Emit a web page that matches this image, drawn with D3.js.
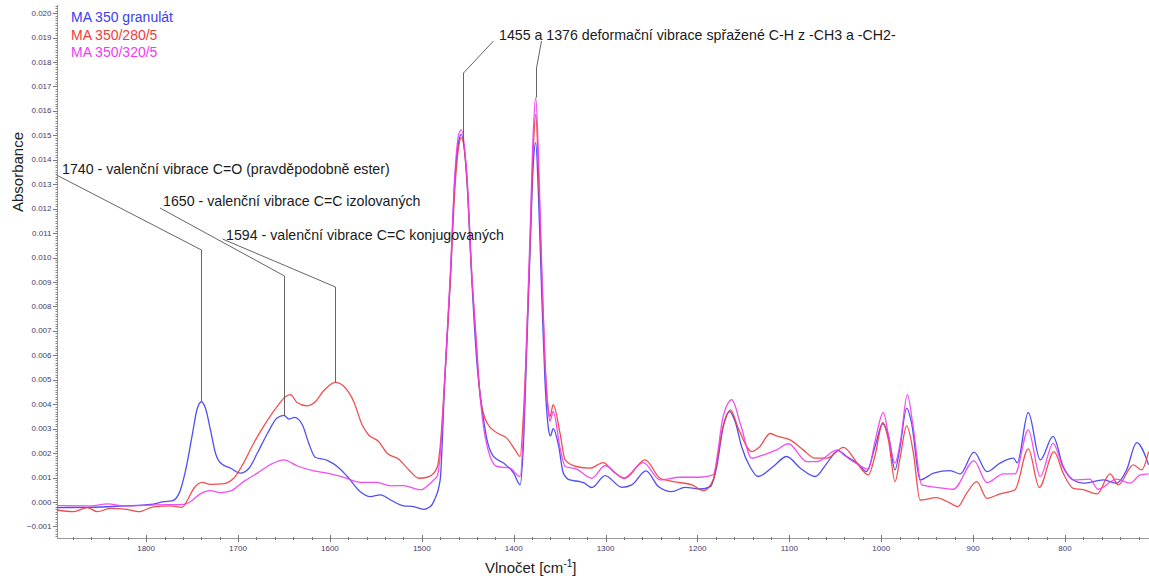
<!DOCTYPE html>
<html><head><meta charset="utf-8">
<script src="https://cdn.jsdelivr.net/npm/d3@7"></script>
<style>body{margin:0;background:#fff} svg{display:block} text{font-family:"Liberation Sans",Arial,sans-serif}</style>
</head><body><svg id="c" width="1149" height="578"></svg>
<script>
// ---------- DATA ----------
const seriesNames = ["MA 350 granulát", "MA 350/280/5", "MA 350/320/5"];
const seriesColors = ["#3c3cf2", "#f03c3c", "#f03cf0"];

// [wavenumber cm-1, absorbance]
const granulat = [[1897,-0.00023],[1861,-0.00022],[1824,-0.00016],[1795,-0.0001],[1781,0.00001],[1772,0.00004],[1764,0.00036],[1757,0.0013],[1750,0.0027],[1744.5,0.0038],[1740,0.0041],[1735.5,0.00384],[1730,0.00295],[1724.6,0.002],[1719,0.00159],[1708,0.00138],[1697.5,0.00118],[1688,0.00138],[1679,0.002],[1668,0.0028],[1657.5,0.00343],[1650,0.00354],[1644.6,0.00339],[1638.6,0.00346],[1630,0.00316],[1623,0.0024],[1616,0.00183],[1603,0.0017],[1592,0.00145],[1581,0.00104],[1567,0.00042],[1556,0.00022],[1545,0.00029],[1534,0.00008],[1520,-0.00016],[1509,-0.00019],[1498,-0.0003],[1491,-0.0002],[1486,0.0001],[1480,0.0009],[1475,0.005],[1469,0.0091],[1464,0.0132],[1460,0.0147],[1457,0.01504],[1451,0.0132],[1445.6,0.0091],[1440,0.00568],[1434.7,0.0039],[1429,0.00254],[1422,0.00186],[1411,0.00159],[1400,0.00118],[1393,0.0007],[1389.5,0.00227],[1385.7,0.00636],[1382,0.01046],[1378.6,0.01388],[1376,0.0147],[1373,0.01251],[1369.4,0.0084],[1366,0.005],[1362,0.00295],[1360,0.0027],[1357,0.003],[1351,0.00227],[1346,0.00118],[1339,0.0009],[1328,0.00083],[1324,0.00079],[1315,0.00059],[1300.5,0.00108],[1282.4,0.0006],[1271.5,0.0007],[1256,0.00127],[1242.5,0.00063],[1228,0.00042],[1213.5,0.0006],[1197,0.00053],[1186,0.00063],[1179,0.00145],[1172,0.00309],[1165,0.0037],[1159,0.00329],[1152,0.00227],[1143,0.00145],[1134,0.00104],[1117.5,0.00145],[1103,0.00186],[1088,0.00138],[1072,0.00104],[1059,0.00159],[1047,0.0021],[1037.6,0.00186],[1025,0.00155],[1016,0.00124],[1006.7,0.00227],[998.4,0.0032],[992,0.00268],[985,0.00131],[980,0.00213],[972.3,0.00384],[967,0.00323],[957.7,0.0009],[943,0.00118],[925,0.00128],[914,0.00115],[899,0.00204],[885,0.00124],[870.7,0.00159],[856,0.00179],[852,0.0016],[840,0.00366],[827,0.00172],[813,0.00268],[802,0.00145],[791,0.0009],[780,0.00077],[758,0.0009],[744,0.00077],[733,0.00131],[722,0.00243],[709,0.00152]];

const ma280 = [[1897,-0.00033],[1879,-0.0004],[1864,-0.00023],[1853,-0.0004],[1839,-0.00026],[1821,-0.0003],[1808,-0.0004],[1792,-0.0002],[1773.5,-0.00016],[1761,-0.00022],[1755,0.00008],[1748,0.00056],[1739,0.0008],[1730,0.00072],[1717,0.00074],[1704.6,0.00097],[1694,0.00159],[1683,0.0024],[1672,0.0031],[1657.5,0.0039],[1648.4,0.0043],[1643,0.00439],[1635.7,0.00407],[1625,0.00393],[1616,0.0041],[1606.6,0.00456],[1594,0.00489],[1585,0.00473],[1574,0.0041],[1565,0.00316],[1558,0.00275],[1547,0.00247],[1538,0.002],[1525,0.00175],[1514,0.00131],[1503,0.00097],[1494,0.00101],[1487,0.00118],[1483,0.00145],[1480,0.00227],[1475,0.005],[1469,0.009],[1464,0.0128],[1460,0.0145],[1457,0.0149],[1451,0.0133],[1445.6,0.0093],[1440,0.0062],[1436.6,0.00432],[1429,0.00323],[1418,0.00282],[1407.5,0.00261],[1398.5,0.00213],[1393,0.00186],[1389.5,0.0035],[1385.7,0.0068],[1382,0.0108],[1378.6,0.0145],[1376,0.01586],[1373,0.0135],[1369.4,0.0092],[1366,0.0058],[1362,0.0037],[1360.5,0.0035],[1357,0.00398],[1349.5,0.0028],[1344,0.00172],[1332,0.00145],[1317,0.00138],[1302.5,0.00161],[1291.5,0.00124],[1279,0.00097],[1257,0.00172],[1240.7,0.00097],[1226,0.00083],[1206,0.0007],[1193.5,0.00046],[1183,0.0009],[1172,0.00309],[1164,0.00377],[1155.5,0.003],[1141,0.00206],[1132,0.00227],[1121,0.0028],[1114,0.0027],[1099,0.00254],[1085,0.00213],[1072,0.00179],[1059,0.00179],[1041,0.00223],[1030,0.00179],[1025,0.00152],[1014,0.00111],[1006.7,0.0019],[998.4,0.00325],[992,0.0025],[985,0.00083],[979.5,0.0018],[972.3,0.00311],[965,0.002],[957.8,0.00008],[940,0.00018],[925,-0.00005],[916.7,-0.00019],[907,0.00036],[896,0.00083],[885,0.00015],[870.7,0.00033],[854.4,0.0005],[840,0.00217],[828,0.0006],[812,0.00206],[802,0.00118],[791,0.00056],[780,0.0005],[765,0.00033],[751,0.00115],[742,0.0007],[725.7,0.00152],[716.6,0.00131],[709,0.00206]];

const ma320 = [[1897,-0.00015],[1860,-0.00016],[1842,-0.00008],[1824,-0.00016],[1788,-0.00012],[1759,-0.0001],[1752,0.00001],[1741,0.00033],[1730,0.00046],[1719,0.00038],[1708,0.00045],[1694,0.00083],[1679,0.00118],[1665,0.00152],[1650,0.00172],[1636,0.00148],[1617.5,0.00127],[1603,0.00118],[1585,0.00101],[1567,0.0008],[1549,0.0008],[1534,0.00066],[1520,0.00067],[1501.5,0.0005],[1492.5,0.0007],[1487,0.0009],[1483,0.00107],[1480,0.0019],[1475,0.0051],[1469,0.0093],[1464,0.0134],[1460,0.015],[1457,0.01522],[1451,0.0134],[1445.6,0.0093],[1440,0.006],[1434.7,0.00364],[1425.7,0.00186],[1418,0.00145],[1404,0.00138],[1393,0.00104],[1389.5,0.0028],[1385.7,0.0069],[1382,0.0112],[1378.6,0.0152],[1376,0.01654],[1373,0.0141],[1369.4,0.0095],[1366,0.0058],[1362,0.0036],[1360.5,0.0033],[1357,0.0037],[1349.5,0.0022],[1344,0.00145],[1332,0.00135],[1315,0.00097],[1300.5,0.00149],[1280.5,0.00097],[1259,0.00161],[1240.7,0.0009],[1219,0.00101],[1197,0.00101],[1183,0.00111],[1172,0.0035],[1162.6,0.00418],[1153,0.00316],[1141,0.00179],[1128,0.00193],[1114,0.00213],[1101,0.00238],[1081,0.00165],[1070,0.00165],[1048,0.00213],[1040,0.0019],[1025,0.00152],[1014,0.00134],[1006.7,0.0025],[997.7,0.00366],[992,0.0027],[985,0.00159],[979,0.0025],[971.6,0.00439],[965,0.003],[956,0.0007],[940,0.0006],[921.6,0.00052],[899,0.00168],[885,0.00079],[867,0.00115],[854.4,0.00115],[840,0.00295],[827,0.00104],[813,0.0024],[802,0.0014],[791,0.0009],[773,0.00093],[764,0.00052],[744,0.00093],[729,0.00077],[718,0.00111],[709,0.00115]];

const xTicks = [1800, 1700, 1600, 1500, 1400, 1300, 1200, 1100, 1000, 900, 800];
const yTicks = [-0.001, 0.000, 0.001, 0.002, 0.003, 0.004, 0.005, 0.006, 0.007, 0.008, 0.009, 0.010, 0.011, 0.012, 0.013, 0.014, 0.015, 0.016, 0.017, 0.018, 0.019, 0.020];

const annotationLabels = [
  "1740 - valenční vibrace C=O (pravděpodobně ester)",
  "1650 - valenční vibrace C=C izolovaných",
  "1594 - valenční vibrace C=C konjugovaných",
  "1455 a 1376 deformační vibrace spřažené C-H z -CH3 a -CH2-"
];
const annotationPeaks = [[1740], [1650], [1594], [1455, 1376]];
const annotationSeries = [[0], [0], [1], [2, 2]];

// ---------- LAYOUT ----------
const svg = d3.select("#c");
const x = d3.scaleLinear().domain([1897, 708.6]).range([57, 1149]);
const y = d3.scaleLinear().domain([-0.001475, 0.02033]).range([538, 5]);
const allSeries = [granulat, ma280, ma320];

svg.append("defs").append("clipPath").attr("id", "clip")
  .append("rect").attr("x", 57).attr("y", 0).attr("width", 1092).attr("height", 538);

// Y axis
const gy = svg.append("g");
gy.append("line").attr("x1", 57.5).attr("x2", 57.5).attr("y1", 5).attr("y2", 538).attr("stroke", "#999");
const yMinor = d3.range(-14, 204).map(i => i / 10000);
gy.selectAll(".ym").data(yMinor).join("line")
  .attr("x1", 55.5).attr("x2", 57.5)
  .attr("y1", d => Math.round(y(d)) + 0.5).attr("y2", d => Math.round(y(d)) + 0.5)
  .attr("stroke", "#888").attr("stroke-width", 1);
gy.selectAll(".yM").data(yTicks).join("line")
  .attr("x1", 53).attr("x2", 57.5)
  .attr("y1", d => Math.round(y(d)) + 0.5).attr("y2", d => Math.round(y(d)) + 0.5)
  .attr("stroke", "#777");
gy.selectAll(".yl").data(yTicks).join("text")
  .attr("x", 51.5).attr("y", d => y(d)).attr("dy", "0.33em")
  .attr("text-anchor", "end").attr("font-size", 8).attr("fill", "#453a6a")
  .text(d => d3.format(".3f")(d));

// X axis
const gx = svg.append("g");
gx.append("line").attr("x1", 57).attr("x2", 1149).attr("y1", 538.5).attr("y2", 538.5).attr("stroke", "#999");
const xMinor = d3.range(720, 1897, 20).filter(v => v % 100 !== 0);
gx.selectAll(".xm").data(xMinor).join("line")
  .attr("x1", d => Math.round(x(d)) + 0.5).attr("x2", d => Math.round(x(d)) + 0.5)
  .attr("y1", 537).attr("y2", 540).attr("stroke", "#777");
gx.selectAll(".xM").data(xTicks).join("line")
  .attr("x1", d => Math.round(x(d)) + 0.5).attr("x2", d => Math.round(x(d)) + 0.5)
  .attr("y1", 535).attr("y2", 542).attr("stroke", "#777");
gx.selectAll(".xl").data(xTicks).join("text")
  .attr("x", d => x(d)).attr("y", 550.5)
  .attr("text-anchor", "middle").attr("font-size", 8).attr("fill", "#453a6a")
  .text(d => d);

// axis titles
svg.append("text").attr("transform", "translate(23,172) rotate(-90)")
  .attr("text-anchor", "middle").attr("font-size", 15).attr("fill", "#222").text("Absorbance");
const xt = svg.append("text").attr("x", 485).attr("y", 573).attr("font-size", 15).attr("fill", "#222");
xt.append("tspan").text("Vlnočet [cm");
xt.append("tspan").attr("font-size", 10).attr("dy", -6).text("-1");
xt.append("tspan").attr("dy", 6).text("]");

// curves
const line = d3.line().x(d => x(d[0])).y(d => y(d[1])).curve(d3.curveMonotoneX);
const gc = svg.append("g").attr("clip-path", "url(#clip)");
allSeries.forEach((s, i) => {
  const data = s.slice().sort((a, b) => a[0] - b[0]);
  gc.append("path").datum(data).attr("d", line)
    .attr("fill", "none").attr("stroke", seriesColors[i]).attr("stroke-width", 1.3)
    .attr("stroke-opacity", 0.9).attr("stroke-linejoin", "round");
});

// legend
seriesNames.forEach((n, i) => {
  svg.append("text").attr("x", 71).attr("y", 22 + i * 17.5)
    .attr("font-size", 14).attr("fill", seriesColors[i]).text(n);
});

// annotations
function valueAt(series, wn) {
  const s = series.slice().sort((a, b) => a[0] - b[0]);
  for (let k = 0; k < s.length - 1; k++) {
    if (wn >= s[k][0] && wn <= s[k + 1][0]) {
      const t = (wn - s[k][0]) / (s[k + 1][0] - s[k][0]);
      return s[k][1] + t * (s[k + 1][1] - s[k][1]);
    }
  }
  return 0;
}
const textPos = [[62, 174], [163, 206], [226, 239.5], [499, 40]];
const lineStarts = [[[56.5, 175]], [[160, 208]], [[222.5, 239]], [[493.5, 41], [541.5, 41]]];
const breakYsFlat = [[250], [276], [287], [73, 68]];
const ga = svg.append("g");
annotationLabels.forEach((lab, i) => {
  ga.append("text").attr("x", textPos[i][0]).attr("y", textPos[i][1])
    .attr("font-size", 14.2).attr("fill", "#1a1a1a").text(lab);
  annotationPeaks[i].forEach((wn, j) => {
    const px = Math.round(x(wn)) + 0.5;
    const py = y(valueAt(allSeries[annotationSeries[i][j]], wn));
    const st = lineStarts[i][j];
    const by = breakYsFlat[i][j];
    ga.append("polyline")
      .attr("points", [[st[0], st[1]], [px, by], [px, py]].map(p => p.join(",")).join(" "))
      .attr("fill", "none").attr("stroke", "#666").attr("stroke-width", 1);
  });
});
</script></body></html>
